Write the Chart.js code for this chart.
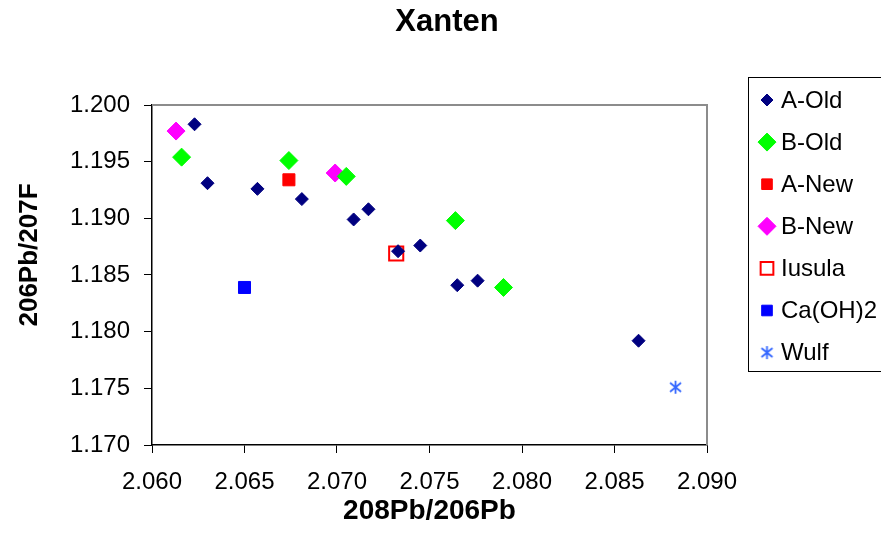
<!DOCTYPE html>
<html>
<head>
<meta charset="utf-8">
<script src="https://cdn.jsdelivr.net/npm/chart.js@4/dist/chart.umd.min.js"></script>
<style>
  html, body { margin: 0; padding: 0; background: #fff; }
  #wrap { width: 881px; height: 551px; }
</style>
</head>
<body>
<div id="wrap"><canvas id="xantenChart" width="881" height="551"></canvas></div>
<script>
// Values
const aOldX = [2.0623, 2.0630, 2.0657, 2.0681, 2.0709, 2.0717, 2.0733, 2.0745, 2.0765, 2.0776, 2.0863];
const aOldY = [1.1983, 1.1931, 1.1926, 1.1917, 1.1899, 1.1908, 1.1871, 1.1876, 1.1841, 1.1845, 1.1792];
const bOldX = [2.0616, 2.0674, 2.0705, 2.0764, 2.0790];
const bOldY = [1.1954, 1.1951, 1.1937, 1.1898, 1.1839];
const aNewX = [2.0674];
const aNewY = [1.1934];
const bNewX = [2.0613, 2.0699];
const bNewY = [1.1977, 1.1940];
const iusulaX = [2.0732];
const iusulaY = [1.1869];
const caohX = [2.0650];
const caohY = [1.1839];
const wulfX = [2.0883];
const wulfY = [1.1751];

const seriesNames = ['A-Old', 'B-Old', 'A-New', 'B-New', 'Iusula', 'Ca(OH)2', 'Wulf'];
const xTicks = [2.060, 2.065, 2.070, 2.075, 2.080, 2.085, 2.090];
const yTicks = [1.170, 1.175, 1.180, 1.185, 1.190, 1.195, 1.200];

const FONT = "'Liberation Sans', Arial, sans-serif";

function toPoints(xs, ys) {
    return xs.map((x, i) => ({ x: x, y: ys[i] }));
}

// six-armed asterisk for the Wulf series
function makeAsterisk() {
    const c = document.createElement('canvas');
    c.width = 15;
    c.height = 15;
    const g = c.getContext('2d');
    g.strokeStyle = '#3366ff';
    g.lineWidth = 1.8;
    g.beginPath();
    g.moveTo(7.5, 1); g.lineTo(7.5, 14);
    g.moveTo(2, 3); g.lineTo(13, 12);
    g.moveTo(13, 3); g.lineTo(2, 12);
    g.stroke();
    return c;
}
const asterisk = makeAsterisk();

// gray plot-area border on the top and right sides
const plotBorder = {
    id: 'plotBorder',
    beforeDatasetsDraw(chart) {
        const a = chart.chartArea;
        const ctx = chart.ctx;
        ctx.save();
        ctx.strokeStyle = '#8c8c8c';
        ctx.lineWidth = 2;
        ctx.beginPath();
        ctx.moveTo(a.left, a.top);
        ctx.lineTo(a.right, a.top);
        ctx.lineTo(a.right, a.bottom);
        ctx.stroke();
        ctx.restore();
    }
};

// chart title and the rotated y-axis title, placed like the spreadsheet original
const titles = {
    id: 'titles',
    afterDraw(chart) {
        const ctx = chart.ctx;
        ctx.save();
        ctx.fillStyle = '#000';
        ctx.textAlign = 'center';
        ctx.textBaseline = 'middle';
        ctx.font = 'bold 31px ' + FONT;
        ctx.fillText('Xanten', 447, 22);
        ctx.translate(30, 255);
        ctx.rotate(-Math.PI / 2);
        ctx.font = 'bold 26px ' + FONT;
        ctx.fillText('206Pb/207F', 0, 0);
        ctx.restore();
    }
};

// boxed legend on the right
const boxLegend = {
    id: 'boxLegend',
    afterDraw(chart) {
        const ctx = chart.ctx;
        ctx.save();
        ctx.strokeStyle = '#000';
        ctx.lineWidth = 1;
        ctx.strokeRect(748.5, 77.5, 200, 294);
        ctx.font = '24px ' + FONT;
        ctx.textBaseline = 'middle';
        ctx.textAlign = 'left';
        chart.data.datasets.forEach((ds, i) => {
            const y = 100 + i * 42.1;
            const x = 767;
            if (ds.pointStyle instanceof HTMLCanvasElement) {
                ctx.drawImage(ds.pointStyle, x - 7.5, y - 7.5);
            } else {
                ctx.fillStyle = ds.backgroundColor;
                ctx.strokeStyle = ds.borderColor;
                ctx.lineWidth = ds.borderWidth;
                Chart.helpers.drawPoint(ctx, {
                    pointStyle: ds.pointStyle,
                    radius: ds.legendRadius,
                    rotation: 0,
                    borderWidth: ds.borderWidth
                }, x, y);
            }
            ctx.fillStyle = '#000';
            ctx.fillText(ds.label, 781, y + 1);
        });
        ctx.restore();
    }
};

function initXantenChart() {
    const ctx = document.getElementById('xantenChart').getContext('2d');
    new Chart(ctx, {
        type: 'scatter',
        data: {
            datasets: [{
                label: seriesNames[0],
                data: toPoints(aOldX, aOldY),
                pointStyle: 'rectRot',
                pointRadius: 6.5,
                legendRadius: 6,
                backgroundColor: '#000080',
                borderColor: '#000080',
                borderWidth: 1
            }, {
                label: seriesNames[1],
                data: toPoints(bOldX, bOldY),
                pointStyle: 'rectRot',
                pointRadius: 9,
                legendRadius: 9,
                backgroundColor: '#00ff00',
                borderColor: '#00ff00',
                borderWidth: 1
            }, {
                label: seriesNames[2],
                data: toPoints(aNewX, aNewY),
                pointStyle: 'rect',
                pointRadius: 8.5,
                legendRadius: 7.5,
                backgroundColor: '#ff0000',
                borderColor: '#ff0000',
                borderWidth: 1
            }, {
                label: seriesNames[3],
                data: toPoints(bNewX, bNewY),
                pointStyle: 'rectRot',
                pointRadius: 9,
                legendRadius: 9,
                backgroundColor: '#ff00ff',
                borderColor: '#ff00ff',
                borderWidth: 1
            }, {
                label: seriesNames[4],
                data: toPoints(iusulaX, iusulaY),
                pointStyle: 'rect',
                pointRadius: 10,
                legendRadius: 9,
                backgroundColor: 'rgba(255,255,255,0)',
                borderColor: '#ff0000',
                borderWidth: 2
            }, {
                label: seriesNames[5],
                data: toPoints(caohX, caohY),
                pointStyle: 'rect',
                pointRadius: 8.5,
                legendRadius: 7.5,
                backgroundColor: '#0000ff',
                borderColor: '#0000ff',
                borderWidth: 1
            }, {
                label: seriesNames[6],
                data: toPoints(wulfX, wulfY),
                pointStyle: asterisk,
                pointRadius: 7,
                backgroundColor: '#3366ff',
                borderColor: '#3366ff',
                borderWidth: 1
            }]
        },
        options: {
            responsive: false,
            animation: false,
            events: [],
            layout: {
                padding: { left: 0, right: 174, top: 105, bottom: 0 }
            },
            plugins: {
                legend: { display: false },
                tooltip: { enabled: false },
                title: { display: false }
            },
            scales: {
                x: {
                    type: 'linear',
                    min: 2.060,
                    max: 2.090,
                    afterFit: scale => { scale.height = 106; },
                    afterBuildTicks: scale => {
                        scale.ticks = xTicks.map(v => ({ value: v }));
                    },
                    ticks: {
                        color: '#000',
                        padding: 15,
                        maxRotation: 0,
                        font: { family: FONT, size: 24 },
                        callback: v => v.toFixed(3)
                    },
                    grid: {
                        drawOnChartArea: false,
                        drawTicks: true,
                        tickLength: 8,
                        color: '#000'
                    },
                    border: { display: true, color: '#000', width: 1.5 },
                    title: {
                        display: true,
                        text: '208Pb/206Pb',
                        color: '#000',
                        font: { family: FONT, size: 28, weight: 'bold' },
                        padding: { top: 0, bottom: 23 }
                    }
                },
                y: {
                    type: 'linear',
                    min: 1.170,
                    max: 1.200,
                    afterFit: scale => { scale.width = 152; },
                    afterBuildTicks: scale => {
                        scale.ticks = yTicks.map(v => ({ value: v }));
                    },
                    ticks: {
                        color: '#000',
                        padding: 14,
                        font: { family: FONT, size: 24 },
                        callback: v => v.toFixed(3)
                    },
                    grid: {
                        drawOnChartArea: false,
                        drawTicks: true,
                        tickLength: 8,
                        color: '#000'
                    },
                    border: { display: true, color: '#000', width: 1.5 }
                }
            }
        },
        plugins: [plotBorder, titles, boxLegend]
    });
}

document.addEventListener('DOMContentLoaded', () => {
    initXantenChart();
});
</script>
</body>
</html>
